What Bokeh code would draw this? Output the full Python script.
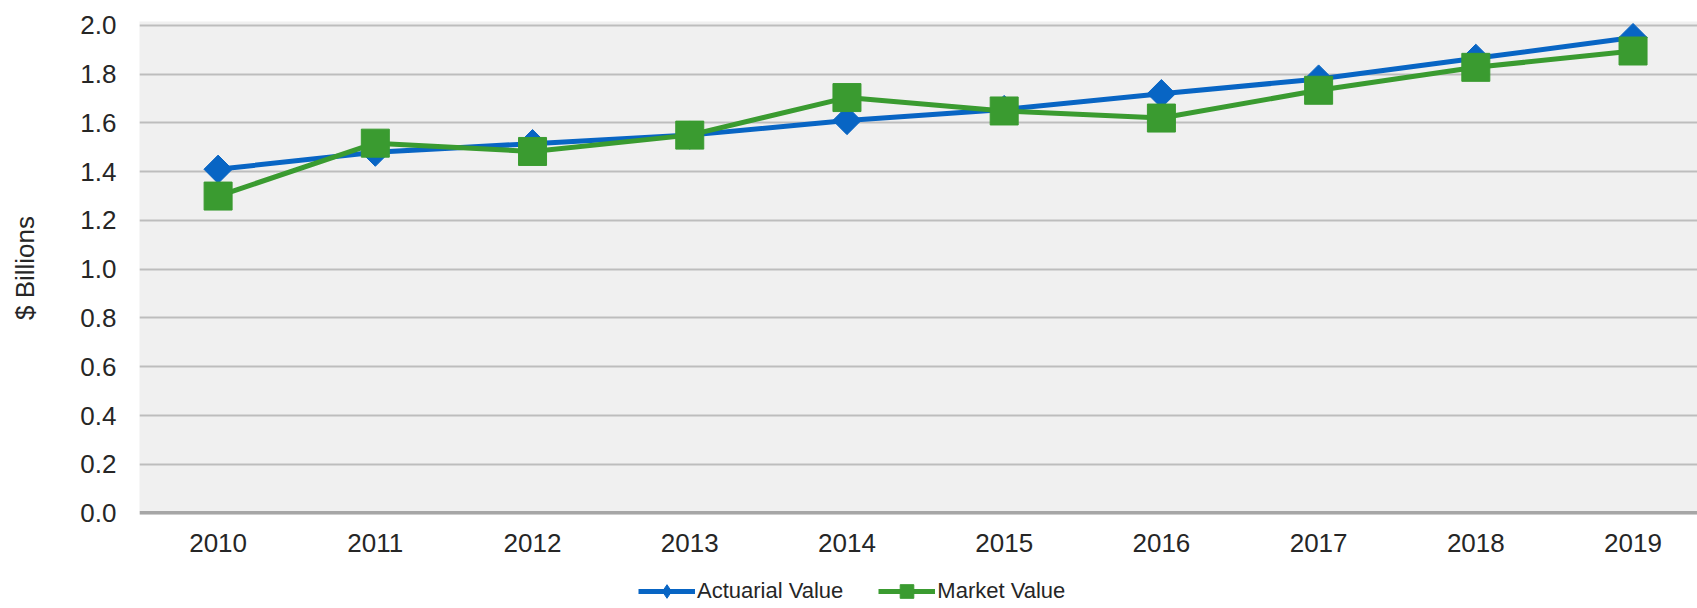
import math
from bokeh.plotting import figure
from bokeh.layouts import column
from bokeh.models import Range1d, FixedTicker, Legend, LegendItem, Span, PrintfTickFormatter
from bokeh.embed import file_html
from bokeh.resources import INLINE

years = ["2010", "2011", "2012", "2013", "2014", "2015", "2016", "2017", "2018", "2019"]
actuarial = [1.41, 1.48, 1.515, 1.55, 1.61, 1.655, 1.72, 1.78, 1.865, 1.95]
market = [1.30, 1.517, 1.483, 1.55, 1.704, 1.649, 1.62, 1.734, 1.828, 1.895]
y_ticks = [0.0, 0.2, 0.4, 0.6, 0.8, 1.0, 1.2, 1.4, 1.6, 1.8, 2.0]

BLUE = "#0865C4"
GREEN = "#3A9B30"
TEXT = "#262626"
FONT = "Liberation Sans"

x = list(range(len(years)))

# ---------------- main chart ----------------
p = figure(width=1697, height=562, output_backend="svg", toolbar_location=None,
           x_range=Range1d(-0.5, 9.41), y_range=Range1d(-0.006, 2.016),
           min_border_left=139, min_border_right=0, min_border_top=21, min_border_bottom=48)
p.background_fill_color = "#F0F0F0"
p.border_fill_color = "white"
p.outline_line_color = None

p.xgrid.grid_line_color = None
p.ygrid.ticker = FixedTicker(ticks=y_ticks[1:])
p.ygrid.grid_line_color = "#BDBDBD"
p.ygrid.grid_line_width = 2

p.add_layout(Span(location=0, dimension="width", line_color="#A6A6A6", line_width=4))

p.yaxis.ticker = FixedTicker(ticks=y_ticks)
p.yaxis.formatter = PrintfTickFormatter(format="%.1f")
p.yaxis.axis_label = "$ Billions"
p.yaxis.axis_label_text_font = FONT
p.yaxis.axis_label_text_font_style = "normal"
p.yaxis.axis_label_text_font_size = "26px"
p.yaxis.axis_label_text_color = TEXT
p.yaxis.axis_label_standoff = 37

p.xaxis.ticker = FixedTicker(ticks=x)
p.xaxis.major_label_overrides = {i: y for i, y in enumerate(years)}

for ax in (p.xaxis[0], p.yaxis[0]):
    ax.axis_line_color = None
    ax.major_tick_line_color = None
    ax.minor_tick_line_color = None
    ax.major_tick_in = 0
    ax.major_tick_out = 0
    ax.major_label_text_font = FONT
    ax.major_label_text_font_size = "26px"
    ax.major_label_text_color = TEXT
p.yaxis.major_label_standoff = 23
p.xaxis.major_label_standoff = 19

p.line(x, actuarial, line_color=BLUE, line_width=5)
p.scatter(x, actuarial, marker="square", angle=math.pi / 4, size=20,
          fill_color=BLUE, line_color=BLUE)
p.line(x, market, line_color=GREEN, line_width=5)
p.scatter(x, market, marker="square", size=28, fill_color=GREEN, line_color=GREEN)

# ---------------- legend strip ----------------
q = figure(width=1697, height=46, output_backend="svg", toolbar_location=None,
           x_range=Range1d(0, 1697), y_range=Range1d(10, 11),
           x_axis_type=None, y_axis_type=None,
           min_border_left=0, min_border_right=0, min_border_top=0, min_border_bottom=0)
q.outline_line_color = None
q.background_fill_color = "white"
q.border_fill_color = "white"
q.grid.visible = False

ql1 = q.line(x, actuarial, line_color=BLUE, line_width=5)
qd1 = q.scatter(x, actuarial, marker="diamond", fill_color=BLUE, line_color=BLUE)
ql2 = q.line(x, market, line_color=GREEN, line_width=5)
qs2 = q.scatter(x, market, marker="square", fill_color=GREEN, line_color=GREEN)

legend = Legend(items=[LegendItem(label="Actuarial Value", renderers=[ql1, qd1]),
                       LegendItem(label="Market Value", renderers=[ql2, qs2])],
                orientation="horizontal", location=(499, 0))
legend.glyph_width = 57
legend.glyph_height = 34
legend.label_height = 34
legend.label_standoff = 2
legend.spacing = 35
legend.padding = 0
legend.margin = 0
legend.background_fill_alpha = 0
legend.border_line_alpha = 0
legend.label_text_font = FONT
legend.label_text_font_size = "22px"
legend.label_text_color = TEXT
q.add_layout(legend)

layout = column(p, q, spacing=0)
open("out.html", "w").write(file_html(layout, INLINE))
